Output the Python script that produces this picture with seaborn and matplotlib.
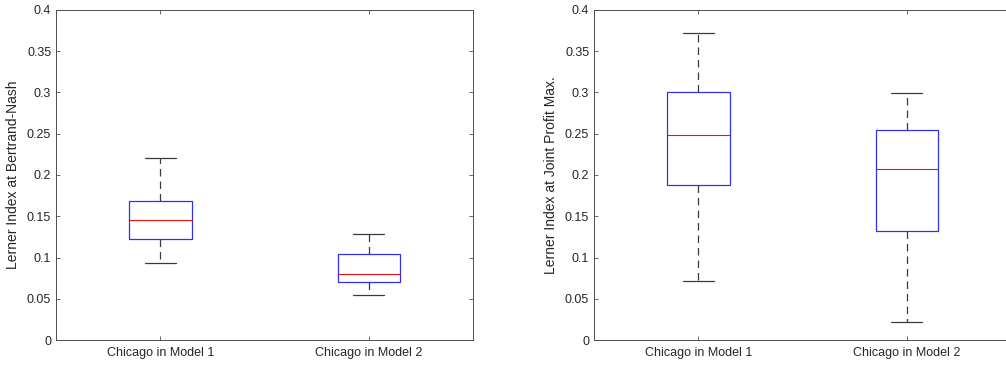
import numpy as np
import pandas as pd
import matplotlib
matplotlib.use("Agg")
import matplotlib.pyplot as plt
import seaborn as sns

# Five-number summaries for each model (lower whisker, Q1, median, Q3, upper whisker)
categories = ["Chicago in Model 1", "Chicago in Model 2"]

bertrand_m1 = [0.093, 0.123, 0.145, 0.169, 0.220]
bertrand_m2 = [0.054, 0.070, 0.080, 0.104, 0.128]

joint_m1 = [0.071, 0.188, 0.248, 0.301, 0.372]
joint_m2 = [0.022, 0.132, 0.207, 0.255, 0.299]

yticks = [0, 0.05, 0.1, 0.15, 0.2, 0.25, 0.3, 0.35, 0.4]
ytick_labels = ["0", "0.05", "0.1", "0.15", "0.2", "0.25", "0.3", "0.35", "0.4"]

sns.set_style("white")
plt.rcParams["font.family"] = ["Liberation Sans", "DejaVu Sans"]

fig = plt.figure(figsize=(10.06, 3.68), dpi=100)
ax1 = fig.add_axes([0.0557, 0.076, 0.4145, 0.897])
ax2 = fig.add_axes([0.5905, 0.076, 0.4145, 0.897])

axis_grey = "#4d4d4d"
text_grey = "#262626"
whisker_grey = "#3a3a3a"


def long_form(a, b):
    return pd.DataFrame({
        "group": [categories[0]] * len(a) + [categories[1]] * len(b),
        "value": list(a) + list(b),
    })


def draw(ax, a, b, ylabel):
    df = long_form(a, b)
    sns.boxplot(
        data=df, x="group", y="value", order=categories, ax=ax,
        width=0.3, whis=np.inf, showfliers=False,
        boxprops=dict(facecolor="white", edgecolor="#3030f0", linewidth=0.9),
        medianprops=dict(color="#f01010", linewidth=0.8),
        whiskerprops=dict(color=whisker_grey, linestyle=(0, (6, 4)), linewidth=0.9),
        capprops=dict(color=whisker_grey, linewidth=0.9),
    )
    ax.set_xlim(-0.5, 1.5)
    ax.set_ylim(0, 0.4)
    ax.set_yticks(yticks)
    ax.set_yticklabels(ytick_labels)
    ax.set_xlabel("")
    ax.set_ylabel(ylabel, fontsize=10, color=text_grey, labelpad=5)
    ax.tick_params(axis="both", direction="in", length=3, width=0.6,
                   colors=axis_grey, labelcolor=text_grey, labelsize=9,
                   top=True, right=True, bottom=True, left=True)
    ax.tick_params(axis="x", pad=5)
    for side in ax.spines.values():
        side.set_visible(True)
        side.set_color(axis_grey)
        side.set_linewidth(0.7)


draw(ax1, bertrand_m1, bertrand_m2, "Lerner Index at Bertrand-Nash")
draw(ax2, joint_m1, joint_m2, "Lerner Index at Joint Profit Max.")

fig.savefig("out.png", dpi=100)
